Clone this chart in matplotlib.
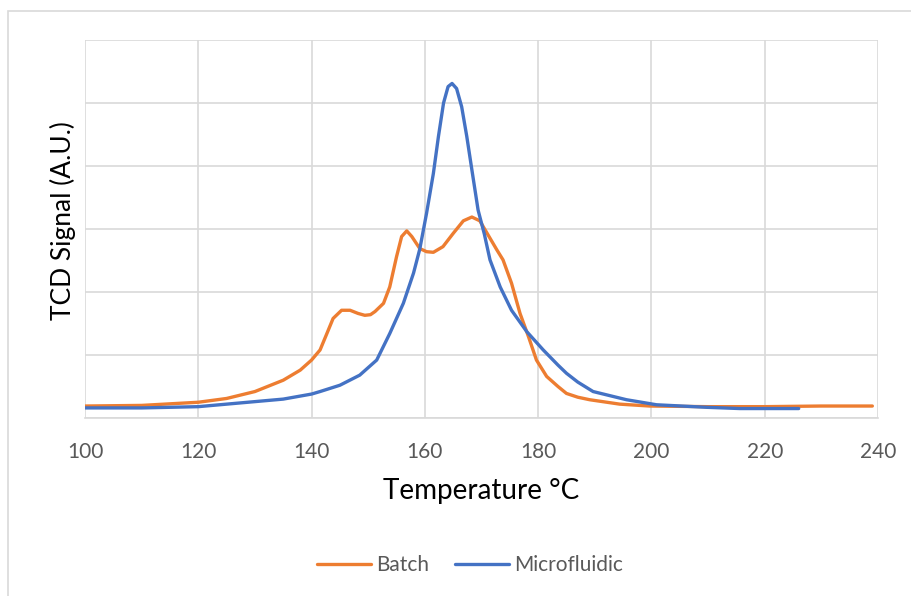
import matplotlib
matplotlib.use("Agg")
import matplotlib.pyplot as plt
from matplotlib.patches import Rectangle

# values (TCD signal in arbitrary units)
batch_temp = [100, 110, 120, 125, 130, 135, 138, 140, 141.5, 142.7, 143.8, 145.3,
              146.8, 148.2, 149.4, 150.4, 151.2, 152.7, 153.8, 155.0, 155.9, 156.8,
              157.7, 159.1, 160.3, 161.5, 163.2, 165.0, 166.8, 168.3, 169.7, 171.2,
              172.7, 173.8, 175.3, 176.8, 178.3, 179.7, 181.5, 183.5, 185, 187,
              189.1, 194.4, 199.7, 210, 220, 230, 239]
batch_signal = [0.19, 0.20, 0.25, 0.31, 0.42, 0.60, 0.76, 0.92, 1.08, 1.34, 1.58, 1.71,
                1.71, 1.66, 1.63, 1.64, 1.69, 1.82, 2.08, 2.56, 2.88, 2.97,
                2.88, 2.69, 2.64, 2.63, 2.72, 2.93, 3.13, 3.19, 3.13, 2.90,
                2.67, 2.51, 2.14, 1.66, 1.29, 0.92, 0.66, 0.50, 0.39, 0.33,
                0.29, 0.22, 0.19, 0.18, 0.18, 0.19, 0.19]

micro_temp = [100, 110, 120, 130, 135, 140, 141.5, 145, 148.5, 151.5, 153.8, 156.2,
              158, 159.1, 160.3, 161.5, 162.4, 163.3, 164.1, 164.8, 165.6, 166.5,
              167.4, 168.3, 169.4, 170.5, 171.5, 173.3, 175.3, 178.0, 180.9, 183.5,
              185, 187, 189.7, 195.6, 200.9, 209.7, 215.6, 226]
micro_signal = [0.16, 0.16, 0.18, 0.26, 0.30, 0.38, 0.42, 0.52, 0.68, 0.92, 1.34, 1.82,
                2.30, 2.68, 3.25, 3.88, 4.47, 5.00, 5.26, 5.31, 5.23, 4.94,
                4.47, 3.94, 3.30, 2.92, 2.51, 2.08, 1.71, 1.37, 1.08, 0.84,
                0.71, 0.57, 0.42, 0.29, 0.21, 0.17, 0.15, 0.15]

x_ticks = [100, 120, 140, 160, 180, 200, 220, 240]

plt.rcParams["font.family"] = ["Lato", "DejaVu Sans"]

fig = plt.figure(figsize=(9.12, 5.96), dpi=100)
ax = fig.add_axes([85 / 912, 1 - 418 / 596, 793 / 912, 378 / 596])

# light chart-area frame like Excel
fig.patches.append(Rectangle((8 / 912, -0.05), 1.1, 1 - 11 / 596 + 0.05,
                             transform=fig.transFigure, fill=False,
                             edgecolor="#D9D9D9", linewidth=1.2))

ax.plot(batch_temp, batch_signal, color="#ED7D31", lw=2.4,
        solid_capstyle="round", solid_joinstyle="round", label="Batch")
ax.plot(micro_temp, micro_signal, color="#4472C4", lw=2.4,
        solid_capstyle="round", solid_joinstyle="round", label="Microfluidic")

ax.set_xlim(100, 240)
ax.set_ylim(0, 6)
ax.set_xticks(x_ticks)
ax.set_yticks(range(7))
ax.set_yticklabels([])
ax.tick_params(axis="both", length=0)
ax.tick_params(axis="x", labelsize=15, labelcolor="#595959", pad=17)

ax.grid(True, color="#D9D9D9", linewidth=1.2)
ax.set_axisbelow(True)
for side in ["left", "right", "top"]:
    ax.spines[side].set_visible(False)
ax.spines["bottom"].set_color("#D9D9D9")
ax.spines["bottom"].set_linewidth(1.2)

ax.set_xlabel("Temperature °C", fontsize=20, color="#000000", va="center")
ax.xaxis.set_label_coords(0.5, -0.193)
ax.set_ylabel("TCD Signal (A.U.)", fontsize=19, color="#000000", va="center")
ax.yaxis.set_label_coords(-0.028, 0.521)

fig.legend(loc="center", bbox_to_anchor=(470 / 912, 1 - 565 / 596), ncol=2,
           frameon=False, fontsize=15, handlelength=2.6, handletextpad=0.25,
           columnspacing=1.25, labelcolor="#595959")

fig.savefig("out.png", dpi=100)
